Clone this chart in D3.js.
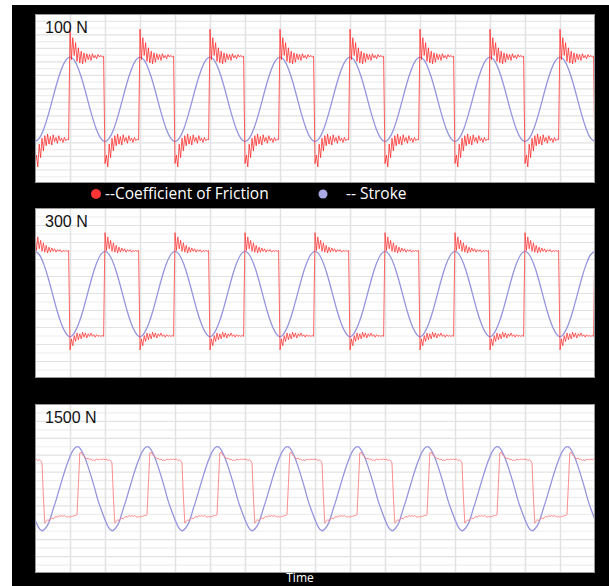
<!DOCTYPE html>
<html>
<head>
<meta charset="utf-8">
<script src="https://cdn.jsdelivr.net/npm/d3@7"></script>
<style>
  body { margin: 0; background: #fff; }
  svg { display: block; }
</style>
</head>
<body>
<svg id="chart"></svg>
<script>
// number of load cycles shown in every panel
var cycles = 8;

// panel titles (normal load)
var panelLabels = ['100 N', '300 N', '1500 N'];
var legendLabels = ['--Coefficient of Friction', '-- Stroke'];

// stroke, one cycle each (arbitrary units 0..20)
var stroke100 = [4.9, 5.3, 6.4, 8.0, 9.9, 11.8, 13.4, 14.5, 14.9, 14.5, 13.4, 11.8, 9.9, 8.0, 6.4, 5.3];
var stroke300 = [14.9, 14.5, 13.4, 11.8, 9.9, 8.0, 6.4, 5.3, 4.85, 5.3, 6.4, 8.0, 9.9, 11.8, 13.4, 14.5];
var stroke1500 = [6.3, 5.4, 5.0, 5.3, 6.0, 7.3, 8.6, 10.0, 11.4, 12.7, 13.8, 14.6, 14.95, 14.7, 13.9, 12.8, 11.5, 10.1, 8.6, 7.4];

// coefficient of friction, one cycle each (50 samples), same units
var friction100 = [2.3, 3.3, 1.9, 4.6, 3.0, 5.3, 3.8, 5.6, 4.4, 5.8, 4.6, 5.5, 4.5, 5.7, 4.9, 5.4,
                   4.7, 5.6, 5.0, 5.3, 4.8, 5.4, 5.0, 5.2, 5.1,
                   18.2, 14.6, 17.2, 15.1, 16.6, 14.4, 16.0, 14.2, 15.6, 14.1, 15.4, 14.3, 15.3, 14.6, 15.2,
                   14.5, 15.3, 14.8, 15.1, 14.7, 15.2, 14.9, 15.1, 14.9, 15.0];
var friction300 = [17.1, 15.0, 16.6, 15.2, 16.2, 14.9, 15.9, 14.8, 15.6, 14.7, 15.4, 14.8, 15.3, 14.9,
                   15.2, 14.8, 15.1, 14.9, 15.1, 14.8, 15.0, 14.9, 15.0, 14.9, 15.0,
                   3.3, 4.6, 3.8, 5.0, 4.3, 5.3, 4.5, 5.2, 4.6, 5.4, 4.8, 5.3, 4.7, 5.2, 4.9,
                   5.3, 4.9, 5.1, 4.8, 5.1, 4.9, 5.0, 4.9, 5.0, 4.9];
var friction1500 = [13.4, 13.5, 13.3, 13.4, 13.3, 13.0, 9.0, 5.9, 6.1, 6.3, 6.2, 6.4, 6.5, 6.4, 6.6, 6.7,
                    6.6, 6.8, 6.7, 6.8, 6.7, 6.8, 6.7, 6.6, 6.7, 6.6, 6.7, 6.7, 6.8, 6.8, 6.9,
                    10.5, 14.2, 14.3, 14.0, 13.8, 13.7, 13.5, 13.6, 13.4, 13.5, 13.3, 13.4, 13.3,
                    13.5, 13.4, 13.4, 13.5, 13.4, 13.5];

var width = 609;
var height = 586;

var panels = [
  {label: panelLabels[0], stroke: stroke100, friction: friction100, top: 14, bottom: 183, gridStep: 0.8, red: '#ff1f1f', redOpacity: 0.72},
  {label: panelLabels[1], stroke: stroke300, friction: friction300, top: 208, bottom: 378, gridStep: 1, red: '#ff1f1f', redOpacity: 0.68},
  {label: panelLabels[2], stroke: stroke1500, friction: friction1500, top: 404, bottom: 573, gridStep: 1, red: '#ff7a7a', redOpacity: 0.85}
];

// repeat one read cycle over the whole time range
function tile(cycle) {
  var pts = [];
  for (var k = 0; k < cycles; k++) {
    cycle.forEach((v, i) => pts.push({t: k + i / cycle.length, v: v}));
  }
  pts.push({t: cycles, v: cycle[0]});
  return pts;
}

var svg = d3.select('#chart')
    .attr('width', width)
    .attr('height', height);

svg.append('rect')
    .attr('x', 12)
    .attr('y', 5)
    .attr('width', width - 12)
    .attr('height', height - 5)
    .attr('fill', '#000');

var x = d3.scaleLinear().domain([0, cycles]).range([35, 595]);

panels.forEach(p => {
  var y = d3.scaleLinear().domain([0, 20]).range([p.bottom, p.top]);
  var g = svg.append('g');

  g.append('rect')
      .attr('x', x.range()[0])
      .attr('y', p.top)
      .attr('width', x.range()[1] - x.range()[0])
      .attr('height', p.bottom - p.top)
      .attr('fill', '#fff');

  //horizontal grid
  g.append('g')
      .attr('transform', 'translate(' + x.range()[0] + ',0)')
      .call(d3.axisLeft(y)
              .tickValues(d3.range(p.gridStep, 20, p.gridStep))
              .tickSize(-(x.range()[1] - x.range()[0]))
              .tickFormat(''))
      .call(a => a.select('.domain').remove())
      .selectAll('line')
      .attr('stroke', (d, i) => i % 2 ? '#e2e2e2' : '#eeeeee')
      .attr('stroke-width', 1.2);

  //vertical grid every half cycle
  g.append('g')
      .attr('transform', 'translate(0,' + p.bottom + ')')
      .call(d3.axisBottom(x)
              .tickValues(d3.range(0.5, cycles, 0.5))
              .tickSize(-(p.bottom - p.top))
              .tickFormat(''))
      .call(a => a.select('.domain').remove())
      .selectAll('line')
      .attr('stroke', '#e3e3e3')
      .attr('stroke-width', 1.6);

  var clipId = 'clip' + p.top;
  g.append('clipPath').attr('id', clipId)
    .append('rect')
      .attr('x', x.range()[0])
      .attr('y', p.top)
      .attr('width', x.range()[1] - x.range()[0])
      .attr('height', p.bottom - p.top);

  var plot = g.append('g').attr('clip-path', 'url(#' + clipId + ')');

  plot.append('path')
      .datum(tile(p.stroke))
      .attr('fill', 'none')
      .attr('stroke', '#9595de')
      .attr('stroke-width', 1.3)
      .attr('d', d3.line().x(d => x(d.t)).y(d => y(d.v)).curve(d3.curveNatural));

  plot.append('path')
      .datum(tile(p.friction))
      .attr('fill', 'none')
      .attr('stroke', p.red)
      .attr('stroke-opacity', p.redOpacity)
      .attr('stroke-width', 1)
      .attr('d', d3.line().x(d => x(d.t)).y(d => y(d.v)));

  g.append('rect')
      .attr('x', x.range()[0] + 0.5)
      .attr('y', p.top + 0.5)
      .attr('width', x.range()[1] - x.range()[0] - 1)
      .attr('height', p.bottom - p.top - 1)
      .attr('fill', 'none')
      .attr('stroke', '#9a9a9a')
      .attr('stroke-width', 1);

  g.append('text')
      .attr('x', 45)
      .attr('y', p.top + 19)
      .attr('font-family', 'Liberation Sans, Arial, sans-serif')
      .attr('font-size', 16)
      .attr('fill', '#111')
      .text(p.label);
});

//legend
var legend = svg.append('g').attr('font-family', 'Open Sans, sans-serif').attr('font-size', 15.5).attr('fill', '#fff');
legend.append('circle').attr('cx', 96).attr('cy', 194).attr('r', 5).attr('fill', '#ff3535');
legend.append('text').attr('x', 105).attr('y', 199).text(legendLabels[0]);
legend.append('circle').attr('cx', 323).attr('cy', 194).attr('r', 4.5).attr('fill', '#a9a9e6');
legend.append('text').attr('x', 346).attr('y', 199).text(legendLabels[1]);

svg.append('text')
    .attr('x', 300)
    .attr('y', 582)
    .attr('text-anchor', 'middle')
    .attr('font-family', 'Open Sans, sans-serif')
    .attr('font-size', 12)
    .attr('fill', '#fff')
    .text('Time');
</script>
</body>
</html>
